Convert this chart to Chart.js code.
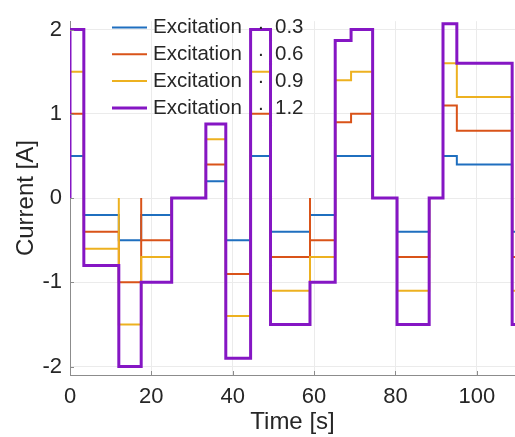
<!DOCTYPE html>
<html>
<head>
<meta charset="utf-8">
<title>Current vs time</title>
<script src="https://cdn.jsdelivr.net/npm/chart.js@4"></script>
<style>
	html, body { margin: 0; padding: 0; background: #fff; overflow: hidden; }
	canvas { display: block; }
</style>
</head>
<body>
<canvas class="chart__canvas" width="515" height="437"></canvas>
<script>
// switching instants of the step signal [s]
const time = [0, 3.4, 12, 17.5, 25, 33.4, 38.3, 44.4, 49.3, 59, 65.2, 69.1, 74.4, 80.4, 88.3, 91.7, 95.1, 108.7];
const endTime = 110;

// level held from each switching instant [A]
const exc03 = [0.5, -0.2, -0.5, -0.2, 0, 0.2, -0.5, 0.5, -0.4, -0.2, 0.5, 0.5, 0, -0.4, 0, 0.5, 0.4, -0.4];
const exc06 = [1.0, -0.4, -1.0, -0.5, 0, 0.4, -0.9, 1.0, -0.7, -0.5, 0.9, 1.0, 0, -0.7, 0, 1.1, 0.8, -0.7];
const exc09 = [1.5, -0.6, -1.5, -0.7, 0, 0.7, -1.4, 1.5, -1.1, -0.7, 1.4, 1.5, 0, -1.1, 0, 1.6, 1.2, -1.1];
const exc12 = [2.0, -0.8, -2.0, -1.0, 0, 0.88, -1.9, 2.0, -1.5, -1.0, 1.87, 2.0, 0, -1.5, 0, 2.07, 1.6, -1.5];

// instants where a trace briefly passes through zero
const dip06 = [17.5, 59];
const dip09 = [12];

const excitations = ["0.3", "0.6", "0.9", "1.2"];
const xTicks = [0, 20, 40, 60, 80, 100];
const yTicks = [-2, -1, 0, 1, 2];

const textColor = "#262626";
const fontFamily = "'Liberation Sans', Arial, Helvetica, sans-serif";

function buildPoints(values, dips) {
	const points = [{ x: 0, y: 0 }];
	time.forEach((t, i) => {
		if (dips.includes(t)) {
			points.push({ x: t, y: 0 });
		}
		points.push({ x: t, y: values[i] });
	});
	points.push({ x: endTime, y: values[values.length - 1] });
	return points;
}

const legendInside = {
	id: "legendInside",
	afterDatasetsDraw(chart) {
		const ctx = chart.ctx;
		const x0 = 112;
		const y0 = 27.5;
		const rowStep = 26.8;
		ctx.save();
		ctx.font = "20.5px " + fontFamily;
		ctx.textBaseline = "middle";
		ctx.fillStyle = textColor;
		chart.data.datasets.forEach((ds, i) => {
			const y = y0 + i * rowStep;
			ctx.strokeStyle = ds.borderColor;
			ctx.lineWidth = ds.borderWidth;
			ctx.beginPath();
			ctx.moveTo(x0, y);
			ctx.lineTo(x0 + 35, y);
			ctx.stroke();
			ctx.textAlign = "left";
			ctx.fillText("Excitation", x0 + 41, y);
			ctx.textAlign = "center";
			ctx.fillText("·", x0 + 149, y);
			ctx.textAlign = "left";
			ctx.fillText(excitations[i], x0 + 163, y);
		});
		ctx.restore();
	},
};

const innerTicks = {
	id: "innerTicks",
	afterDraw(chart) {
		const ctx = chart.ctx;
		const xs = chart.scales.x;
		const ys = chart.scales.y;
		const area = chart.chartArea;
		ctx.save();
		ctx.strokeStyle = "#8c8c8c";
		ctx.lineWidth = 1;
		ctx.beginPath();
		xTicks.forEach((v) => {
			const px = Math.round(xs.getPixelForValue(v)) + 0.5;
			ctx.moveTo(px, area.bottom);
			ctx.lineTo(px, area.bottom - 4);
		});
		yTicks.forEach((v) => {
			const py = Math.round(ys.getPixelForValue(v)) + 0.5;
			ctx.moveTo(area.left, py);
			ctx.lineTo(area.left + 4, py);
		});
		ctx.stroke();
		ctx.restore();
	},
};

function configChart() {
	const colors = ["#1f6fbf", "#d95319", "#edb120", "#8516c4"];
	const series = [exc03, exc06, exc09, exc12];
	const dips = [[], dip06, dip09, []];

	const datasets = series.map((values, i) => ({
		label: "Excitation · " + excitations[i],
		data: buildPoints(values, dips[i]),
		borderColor: colors[i],
		backgroundColor: colors[i],
		borderWidth: i === 3 ? 3 : 2,
		stepped: true,
		pointRadius: 0,
		fill: false,
		order: 4 - i,
	}));

	return {
		type: "line",
		data: { datasets: datasets },
		options: {
			responsive: false,
			animation: false,
			devicePixelRatio: 1,
			layout: { padding: { top: 13, right: 0, left: 0, bottom: 0 } },
			plugins: {
				legend: { display: false },
				tooltip: { enabled: false },
			},
			scales: {
				x: {
					type: "linear",
					min: 0,
					max: 109.4,
					afterBuildTicks: (scale) => {
						scale.ticks = xTicks.map((v) => ({ value: v }));
					},
					afterFit: (scale) => {
						scale.height = 62;
					},
					grid: { color: "#ebebeb", drawTicks: false },
					border: { color: "#8c8c8c" },
					ticks: {
						color: textColor,
						padding: 9,
						maxRotation: 0,
						font: { family: fontFamily, size: 22 },
					},
					title: {
						display: true,
						text: "Time [s]",
						color: textColor,
						padding: { top: 0, bottom: 0 },
						font: { family: fontFamily, size: 24 },
					},
				},
				y: {
					type: "linear",
					min: -2.1,
					max: 2.1,
					afterBuildTicks: (scale) => {
						scale.ticks = yTicks.map((v) => ({ value: v }));
					},
					afterFit: (scale) => {
						scale.width = 70;
					},
					grid: { color: "#ebebeb", drawTicks: false },
					border: { color: "#8c8c8c" },
					ticks: {
						color: textColor,
						padding: 8,
						font: { family: fontFamily, size: 22 },
					},
					title: {
						display: true,
						text: "Current [A]",
						color: textColor,
						padding: { top: 12, bottom: 0 },
						font: { family: fontFamily, size: 24 },
					},
				},
			},
		},
		plugins: [legendInside, innerTicks],
	};
}

function render() {
	const chartDOM = document.querySelector(".chart__canvas");
	new Chart(chartDOM, configChart());
}

render();
</script>
</body>
</html>
